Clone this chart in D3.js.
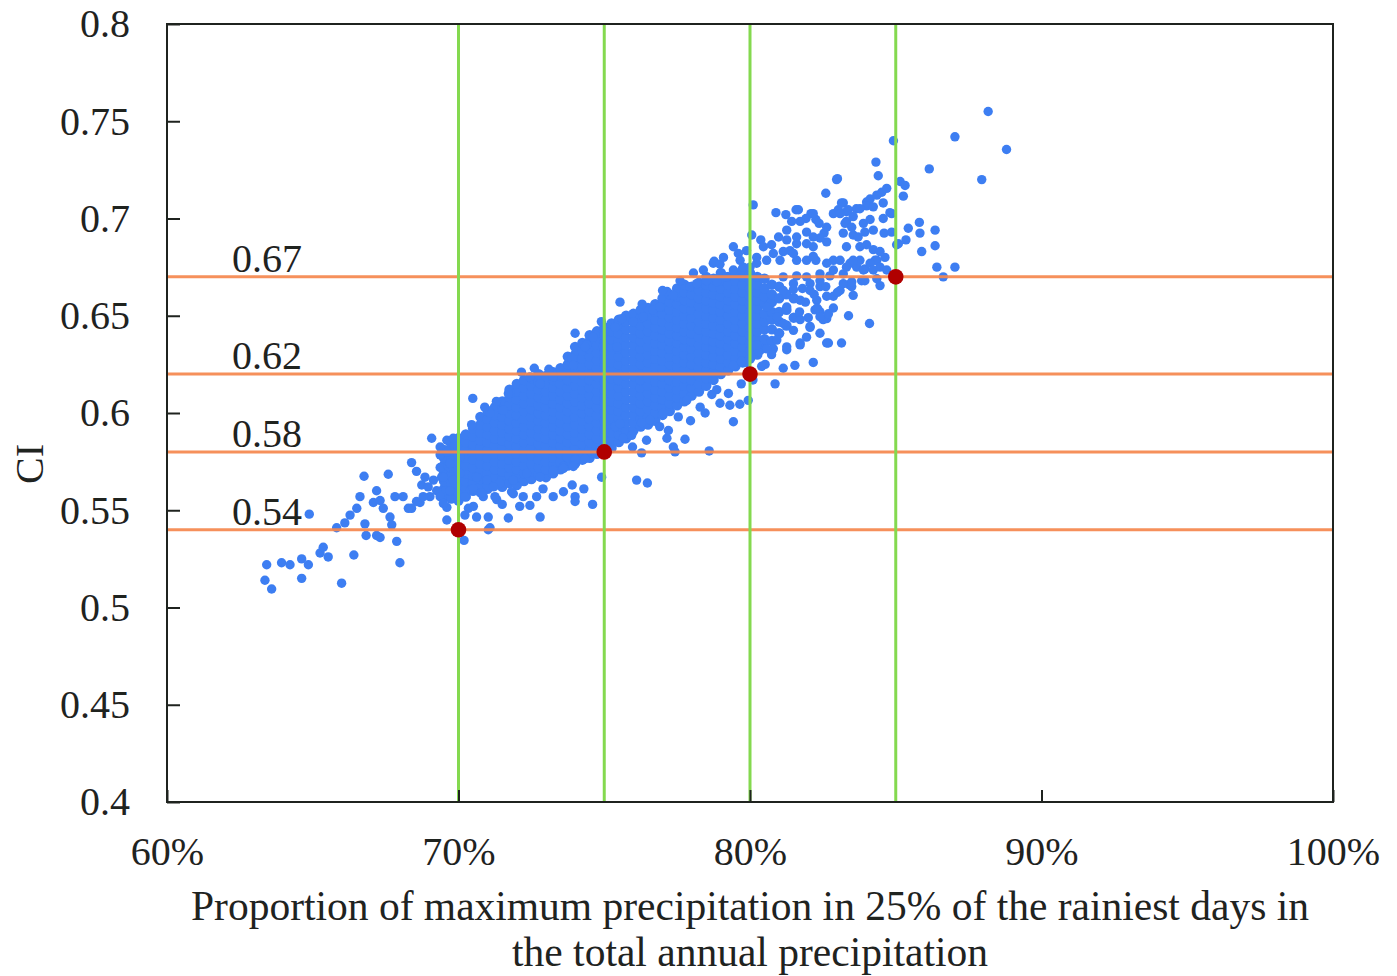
<!DOCTYPE html>
<html><head><meta charset="utf-8">
<script src="https://cdn.jsdelivr.net/npm/d3@7"></script>
<style>body{margin:0;background:#fff}</style>
</head><body><svg id="c" width="1397" height="976"></svg>
<script>
// ---------- data ----------
const xTicks = [60, 70, 80, 90, 100];
const yTicks = [0.4, 0.45, 0.5, 0.55, 0.6, 0.65, 0.7, 0.75, 0.8];
const thresholdX = [70, 75, 80, 85];          // % (green lines)
const thresholdCI = [0.54, 0.58, 0.62, 0.67];  // CI (orange lines)
const thresholdLabels = ["0.54", "0.58", "0.62", "0.67"];
const yTitle = "CI";
const xTitleLines = ["Proportion of maximum precipitation in 25% of the rainiest days in", "the total annual precipitation"];

// dense core of the cloud: [x %, [CI values...]]
const coreColumns = [
 [69.5, [0.557,0.561,0.565,0.569,0.573,0.577,0.581]],
 [69.75,[0.556,0.560,0.564,0.568,0.572,0.576,0.580,0.584]],
 [70.0, [0.555,0.559,0.563,0.567,0.571,0.575,0.579,0.583,0.587]],
 [70.25,[0.557,0.561,0.565,0.569,0.573,0.577,0.581,0.585,0.589]],
 [70.5, [0.560,0.564,0.568,0.572,0.576,0.580,0.584,0.588,0.592]],
 [70.75,[0.562,0.566,0.570,0.574,0.578,0.582,0.586,0.590,0.594,0.598]],
 [71.0, [0.561,0.565,0.569,0.573,0.577,0.581,0.585,0.589,0.593,0.597,0.601]],
 [71.25,[0.563,0.567,0.571,0.575,0.579,0.583,0.587,0.591,0.595,0.599,0.603]],
 [71.5, [0.562,0.566,0.570,0.574,0.578,0.582,0.586,0.590,0.594,0.598,0.602,0.606]],
 [71.75,[0.564,0.568,0.572,0.576,0.580,0.584,0.588,0.592,0.596,0.600,0.604,0.608,0.612]],
 [72.0, [0.563,0.567,0.571,0.575,0.579,0.583,0.587,0.591,0.595,0.599,0.603,0.607,0.611,0.615]],
 [72.25,[0.565,0.569,0.573,0.577,0.581,0.585,0.589,0.593,0.597,0.601,0.605,0.609,0.613,0.617]],
 [72.5, [0.566,0.570,0.574,0.578,0.582,0.586,0.590,0.594,0.598,0.602,0.606,0.610,0.614,0.618]],
 [72.75,[0.568,0.572,0.576,0.580,0.584,0.588,0.592,0.596,0.600,0.604,0.608,0.612,0.616,0.620]],
 [73.0, [0.567,0.571,0.575,0.579,0.583,0.587,0.591,0.595,0.599,0.603,0.607,0.611,0.615,0.619]],
 [73.25,[0.569,0.573,0.577,0.581,0.585,0.589,0.593,0.597,0.601,0.605,0.609,0.613,0.617,0.621]],
 [73.5, [0.571,0.575,0.579,0.583,0.587,0.591,0.595,0.599,0.603,0.607,0.611,0.615,0.619,0.623]],
 [73.75,[0.573,0.577,0.581,0.585,0.589,0.593,0.597,0.601,0.605,0.609,0.613,0.617,0.621,0.625,0.629]],
 [74.0, [0.574,0.578,0.582,0.586,0.590,0.594,0.598,0.602,0.606,0.610,0.614,0.618,0.622,0.626,0.630,0.634]],
 [74.25,[0.576,0.580,0.584,0.588,0.592,0.596,0.600,0.604,0.608,0.612,0.616,0.620,0.624,0.628,0.632,0.636]],
 [74.5, [0.577,0.581,0.585,0.589,0.593,0.597,0.601,0.605,0.609,0.613,0.617,0.621,0.625,0.629,0.633,0.637,0.640]],
 [74.75,[0.579,0.583,0.587,0.591,0.595,0.599,0.603,0.607,0.611,0.615,0.619,0.623,0.627,0.631,0.635,0.639,0.642]],
 [75.0, [0.580,0.584,0.588,0.592,0.596,0.600,0.604,0.608,0.612,0.616,0.620,0.624,0.628,0.632,0.636,0.640,0.644]],
 [75.25,[0.582,0.586,0.590,0.594,0.598,0.602,0.606,0.610,0.614,0.618,0.622,0.626,0.630,0.634,0.638,0.642,0.646]],
 [75.5, [0.585,0.589,0.593,0.597,0.601,0.605,0.609,0.613,0.617,0.621,0.625,0.629,0.633,0.637,0.641,0.645,0.648]],
 [75.75,[0.587,0.591,0.595,0.599,0.603,0.607,0.611,0.615,0.619,0.623,0.627,0.631,0.635,0.639,0.643,0.647,0.650]],
 [76.0, [0.591,0.595,0.599,0.603,0.607,0.611,0.615,0.619,0.623,0.627,0.631,0.635,0.639,0.643,0.647,0.651]],
 [76.25,[0.593,0.597,0.601,0.605,0.609,0.613,0.617,0.621,0.625,0.629,0.633,0.637,0.641,0.645,0.649,0.653]],
 [76.5, [0.594,0.598,0.602,0.606,0.610,0.614,0.618,0.622,0.626,0.630,0.634,0.638,0.642,0.646,0.650,0.654]],
 [76.75,[0.596,0.600,0.604,0.608,0.612,0.616,0.620,0.624,0.628,0.632,0.636,0.640,0.644,0.648,0.652,0.656]],
 [77.0, [0.599,0.603,0.607,0.611,0.615,0.619,0.623,0.627,0.631,0.635,0.639,0.643,0.647,0.651,0.655,0.659]],
 [77.25,[0.601,0.605,0.609,0.613,0.617,0.621,0.625,0.629,0.633,0.637,0.641,0.645,0.649,0.653,0.657,0.661]],
 [77.5, [0.604,0.608,0.612,0.616,0.620,0.624,0.628,0.632,0.636,0.640,0.644,0.648,0.652,0.656,0.660,0.664]],
 [77.75,[0.606,0.610,0.614,0.618,0.622,0.626,0.630,0.634,0.638,0.642,0.646,0.650,0.654,0.658,0.662,0.666]],
 [78.0, [0.609,0.613,0.617,0.621,0.625,0.629,0.633,0.637,0.641,0.645,0.649,0.653,0.657,0.661,0.665]],
 [78.25,[0.611,0.615,0.619,0.623,0.627,0.631,0.635,0.639,0.643,0.647,0.651,0.655,0.659,0.663,0.667]],
 [78.5, [0.614,0.618,0.622,0.626,0.630,0.634,0.638,0.642,0.646,0.650,0.654,0.658,0.662,0.666,0.670]],
 [78.75,[0.617,0.621,0.625,0.629,0.633,0.637,0.641,0.645,0.649,0.653,0.657,0.661,0.665,0.669]],
 [79.0, [0.620,0.624,0.628,0.632,0.636,0.640,0.644,0.648,0.652,0.656,0.660,0.664,0.668,0.672]],
 [79.25,[0.622,0.626,0.630,0.634,0.638,0.642,0.646,0.650,0.654,0.658,0.662,0.666,0.670]],
 [79.5, [0.624,0.628,0.632,0.636,0.640,0.644,0.648,0.652,0.656,0.660,0.664,0.668,0.672]],
 [79.75,[0.626,0.630,0.634,0.638,0.642,0.646,0.650,0.654,0.658,0.662,0.666,0.670,0.674]],
 [80.0, [0.628,0.632,0.636,0.640,0.644,0.648,0.652,0.656,0.660,0.664,0.668,0.672]],
 [80.25,[0.630,0.634,0.638,0.642,0.646,0.650,0.654,0.658,0.662,0.666,0.670]],
 [80.5, [0.634,0.638,0.643,0.647,0.651,0.656,0.660,0.664,0.669]],
 [80.75,[0.637,0.643,0.648,0.652,0.657,0.661,0.666]],
 [81.0, [0.641,0.647,0.652,0.659,0.665]],
 [81.25,[0.645,0.653,0.661]],
 [81.5, [0.649,0.659]]
];

// scattered points around the core: [x %, CI]
const outerPoints = [
 [63.42,0.522],[63.36,0.514],[63.59,0.5095],[63.93,0.523],[64.22,0.522],[64.62,0.525],[64.85,0.522],[64.62,0.515],[64.88,0.548],[65.25,0.528],
 [65.36,0.531],[65.53,0.526],[65.99,0.5125],[66.41,0.527],[65.82,0.541],[66.1,0.5435],[66.28,0.5475],[66.51,0.551],[66.62,0.557],[66.79,0.543],
 [66.83,0.537],[66.76,0.5675],[67.19,0.560],[67.08,0.554],[67.31,0.555],[67.42,0.551],[67.19,0.537],[67.31,0.536],[67.59,0.5685],[67.65,0.5465],
 [67.71,0.5425],[67.88,0.534],[67.99,0.523],[67.82,0.557],[68.1,0.557],[68.39,0.551],[68.68,0.554],[68.39,0.5745],[68.56,0.570],[68.74,0.563],
 [68.96,0.562],[69.08,0.587],[69.37,0.572],[69.42,0.567],[69.54,0.560],[69.6,0.5515],[69.6,0.545],[69.82,0.5655],[69.82,0.5845],[70.05,0.5775],
 [70.19,0.5345],[70.34,0.551],[70.62,0.5465],[71.02,0.540],[70.39,0.560],[70.74,0.559],[69.37,0.5825],
 [68.85,0.567],[69.14,0.5655],[69.25,0.560],[69.02,0.557],[69.37,0.557],[69.48,0.5535],[69.65,0.5725],[69.37,0.5785],[69.6,0.580],[68.79,0.557],
 [68.56,0.5545],[68.28,0.551],[69.6,0.586],[69.82,0.587],[69.71,0.574],[69.48,0.567],[69.71,0.560],
 [70.05,0.569],[70.62,0.567],[70.97,0.562],[71.42,0.564],[71.88,0.5655],[72.34,0.569],[72.8,0.567],[73.25,0.5705],[73.6,0.5725],[73.94,0.576],
 [74.28,0.5775],[71.82,0.5595],[72.22,0.557],[70.51,0.561],[70.22,0.557],[70.85,0.557],[71.31,0.5555],[70.97,0.5655],[71.2,0.562],[70.51,0.552],
 [71.02,0.5465],[70.22,0.5475],[71.08,0.541],[71.71,0.546],[71.88,0.5585],[72.45,0.5525],[72.68,0.557],[72.8,0.5465],[73.25,0.557],[74.0,0.557],
 [74.0,0.5545],[74.6,0.553],[74.91,0.567],[76.11,0.5655],[76.48,0.564],[75.97,0.5825],[76.28,0.5795],[77.37,0.5825],[77.77,0.5865],[77.96,0.596],
 [70.8,0.559],[71.25,0.557],[71.5,0.553],[72.1,0.552],[73.6,0.5595],[74.3,0.561],[72.9,0.561],[73.9,0.563],
 [73.71,0.5775],[74.0,0.576],[74.34,0.5765],[73.6,0.5715],[73.94,0.5725],
 [70.49,0.6075],[70.45,0.594],[71.08,0.6005],[71.77,0.61],[72.16,0.621],[73.94,0.628],[74.4,0.635],[74.0,0.641],[74.68,0.640],[74.34,0.634],
 [74.62,0.639],[73.88,0.628],[73.94,0.6245],[75.54,0.657],[75.6,0.6485],[75.37,0.644],[74.97,0.634],[75.43,0.634],[73.25,0.6185],[73.54,0.6195],
 [72.8,0.615],[72.45,0.6185],[71.71,0.610],[71.08,0.600],[71.54,0.6015],[77.15,0.6625],[77.37,0.6605],[78.06,0.672],[78.4,0.6735],[78.74,0.677],
 [76.0,0.647],[76.34,0.6495],[76.68,0.653],[76.91,0.6545],
 [78.6,0.5805],[78.46,0.600],[79.43,0.5955],[78.97,0.605],[79.31,0.604],[79.65,0.6045],[79.94,0.6065],[79.26,0.61],[78.86,0.612],[77.43,0.580],
 [77.15,0.587],[77.2,0.591],[76.9,0.593],[76.45,0.586],[76.28,0.595],[75.65,0.587],[75.94,0.5885],[75.37,0.593],[75.54,0.5945],[76.57,0.5965],
 [77.03,0.600],[77.54,0.598],[78.29,0.603],[77.83,0.6065],[78.69,0.6095],[80.86,0.615],
 [82.69,0.636],[82.17,0.626],[81.54,0.6245],[81.14,0.623],[80.52,0.625],[80.34,0.632],[80.8,0.633],[81.26,0.6325],[81.72,0.635],[82.06,0.644],
 [82.4,0.652],[82.63,0.6485],[82.29,0.658],[82.86,0.66],[83.38,0.650],[84.1,0.646],[83.14,0.636],[82.34,0.653],[82.51,0.648],[82.86,0.654],
 [80.74,0.630],[80.57,0.633],[80.28,0.6315],[79.88,0.626],[80.23,0.635],[80.92,0.6375],[81.26,0.634],[81.72,0.636],[81.94,0.639],[81.49,0.6425],
 [81.14,0.646],[80.92,0.6495],[80.57,0.6545],[81.72,0.648],[82.06,0.6445],[82.4,0.6495],[81.26,0.6545],[81.72,0.658],[81.14,0.663],[81.49,0.6665],
 [82.06,0.6665],[82.63,0.636],[82.4,0.641],[82.69,0.651],[81.7,0.652],[82.0,0.649],[79.43,0.6245],[79.71,0.6265],[80.4,0.624],
 [82.06,0.663],[82.4,0.665],[83.09,0.663],[82.63,0.660],[82.23,0.653],[83.49,0.665],[83.54,0.6605],[81.8,0.664],[82.2,0.661],[82.6,0.665],
 [83.0,0.662],[83.4,0.666],[81.9,0.657],[82.3,0.654],
 [80.11,0.707],[80.06,0.6915],[80.89,0.703],[80.37,0.689],[79.43,0.6855],[79.6,0.682],[82.6,0.713],[82.97,0.72],[81.23,0.702],[81.58,0.7045],
 [82.09,0.7025],[81.92,0.700],[82.26,0.6995],[82.37,0.6975],[82.54,0.6925],[82.86,0.7025],[83.03,0.7045],[83.2,0.708],[83.31,0.7035],[83.65,0.705],
 [84.0,0.7085],[84.12,0.710],[84.35,0.712],[84.52,0.7135],[84.69,0.7155],[85.15,0.719],[85.32,0.717],[85.26,0.7115],[84.86,0.7025],[84.57,0.700],
 [85.43,0.695],[85.81,0.698],[86.35,0.694],[85.83,0.6925],[85.89,0.683],[86.35,0.686],[86.41,0.675],[86.63,0.670],[87.03,0.675],[85.03,0.6865],
 [85.35,0.689],[83.83,0.668],[84.46,0.6655],[83.94,0.674],[84.29,0.6785],[84.63,0.680],
 [88.17,0.755],[87.03,0.742],[88.8,0.7355],[87.95,0.72],[86.15,0.7255],[84.92,0.74],[84.32,0.729],[84.4,0.722],[83.0,0.7205],[84.6,0.6925],
 [78.77,0.678],[78.97,0.6765],[81.66,0.7045],[82.17,0.7025],[81.72,0.6985],[81.43,0.6985],[81.26,0.694],[80.98,0.6905],[81.94,0.693],[82.63,0.6955],
 [83.09,0.7025],[83.14,0.708],[83.37,0.7045],[83.31,0.6985],[83.2,0.6925],[83.54,0.6915],[82.63,0.688],[82.4,0.690],[82.17,0.6855],[81.94,0.687],
 [81.6,0.687],[81.37,0.6835],[81.14,0.683],[80.8,0.682],[81.03,0.6785],[81.6,0.6785],[81.94,0.6785],[82.26,0.6785],[82.86,0.6785],[83.09,0.6785],
 [83.43,0.677],[83.66,0.675],[81.26,0.689],[80.74,0.6865],[81.6,0.6905],[82.17,0.6905],
 [81.14,0.670],[81.6,0.6705],[81.94,0.670],[82.4,0.6715],[82.74,0.6705],[83.2,0.6715],
 [84.0,0.7065],[84.23,0.706],[84.57,0.708],[83.77,0.705],[83.54,0.701],[83.26,0.6975],[83.49,0.6955],[83.89,0.6975],[84.12,0.6995],[84.23,0.694],
 [83.94,0.693],[83.71,0.6905],[83.31,0.6855],[83.77,0.6855],[84.0,0.6865],[84.23,0.684],[84.46,0.683],[84.35,0.6785],[84.12,0.677],[83.77,0.6785],
 [83.54,0.6785],[83.31,0.675],[83.89,0.6735],[84.23,0.6735],[84.46,0.675],[84.69,0.6735],[84.35,0.669],[83.94,0.668],[83.49,0.6675],[83.2,0.6665],
 [84.8,0.703],[84.86,0.693],[85.09,0.687],
 [79.09,0.680],[79.66,0.6785],[79.88,0.6835],[80.23,0.680],[80.46,0.6855],[80.57,0.6785],[80.0,0.675],
 [77.94,0.665],[78.17,0.6665],[78.86,0.6675],[79.2,0.670],[79.43,0.6735],[79.77,0.675],[78.51,0.668],
 [81.49,0.682],[82.17,0.6805],[82.63,0.677],[82.86,0.6735],[82.4,0.668],[81.49,0.6635],[80.23,0.677],
 [72.6,0.623],[73.1,0.6225],[74.9,0.647],[76.3,0.656],[77.0,0.663],[77.6,0.668],[71.3,0.606],[70.9,0.603],[80.1,0.617],[79.7,0.615]
];

// ---------- drawing ----------
const W = 1397, H = 976;
const margin = {left: 167, right: 64, top: 24, bottom: 174};
const iw = W - margin.left - margin.right;
const ih = H - margin.top - margin.bottom;
const FONT = "'Liberation Serif','Times New Roman',serif";
const INK = "#1f231f";
const FS = 40;

const svg = d3.select("#c");
const g = svg.append("g").attr("transform", `translate(${margin.left},${margin.top})`);

const x = d3.scaleLinear().domain([60, 100]).range([0, iw]);
const y = d3.scaleLinear().domain([0.4, 0.8]).range([ih, 0]);

const corePoints = coreColumns.flatMap(([cx, ys]) => ys.map(v => [cx, v]));

// points
const dots = g.append("g").attr("fill", "#3d7ef2");
dots.selectAll("circle.core").data(corePoints).join("circle").attr("class", "core")
  .attr("cx", d => x(d[0])).attr("cy", d => y(d[1])).attr("r", 5.2);
dots.selectAll("circle.outer").data(outerPoints).join("circle").attr("class", "outer")
  .attr("cx", d => x(d[0])).attr("cy", d => y(d[1])).attr("r", 4.7);

// threshold lines
g.append("g").selectAll("line").data(thresholdCI).join("line")
  .attr("x1", 0).attr("x2", iw).attr("y1", d => y(d)).attr("y2", d => y(d))
  .attr("stroke", "#f5874d").attr("stroke-width", 3).attr("stroke-opacity", 0.92);
g.append("g").selectAll("line").data(thresholdX).join("line")
  .attr("x1", d => x(d)).attr("x2", d => x(d)).attr("y1", 0).attr("y2", ih)
  .attr("stroke", "#84d94f").attr("stroke-width", 3);

// threshold labels
g.append("g").selectAll("text").data(thresholdCI).join("text")
  .attr("x", 65).attr("y", d => y(d) - 5)
  .attr("font-family", FONT).attr("font-size", FS).attr("fill", INK)
  .text((d, i) => thresholdLabels[i]);

// red intersection points
g.append("g").selectAll("circle").data(thresholdX.map((v, i) => [v, thresholdCI[i]])).join("circle")
  .attr("cx", d => x(d[0])).attr("cy", d => y(d[1])).attr("r", 7.8)
  .attr("fill", "#b00000");

// axes
const yAxis = d3.axisLeft(y).tickValues(yTicks).tickFormat(d => String(+d.toFixed(2)))
  .tickSize(-13).tickPadding(37);
const ya = g.append("g").call(yAxis);
const xAxis = d3.axisBottom(x).tickValues(xTicks).tickFormat(d => d + "%")
  .tickSize(-12).tickPadding(35);
const xa = g.append("g").attr("transform", `translate(0,${ih})`).call(xAxis);
[ya, xa].forEach(a => {
  a.select(".domain").remove();
  a.selectAll("line").attr("stroke", INK).attr("stroke-width", 2);
  a.selectAll("text").attr("font-family", FONT).attr("font-size", FS).attr("fill", INK);
});

// frame
g.append("rect").attr("x", 0).attr("y", 0).attr("width", iw).attr("height", ih)
  .attr("fill", "none").attr("stroke", INK).attr("stroke-width", 2);

// titles
svg.append("text").attr("transform", `translate(43,464) rotate(-90)`)
  .attr("text-anchor", "middle").attr("font-family", FONT).attr("font-size", FS).attr("fill", INK)
  .text(yTitle);
svg.append("g").selectAll("text").data(xTitleLines).join("text")
  .attr("x", margin.left + iw / 2).attr("y", (d, i) => 920 + i * 46)
  .attr("text-anchor", "middle").attr("font-family", FONT).attr("font-size", 41.5).attr("fill", INK)
  .text(d => d);
</script>
</body></html>
